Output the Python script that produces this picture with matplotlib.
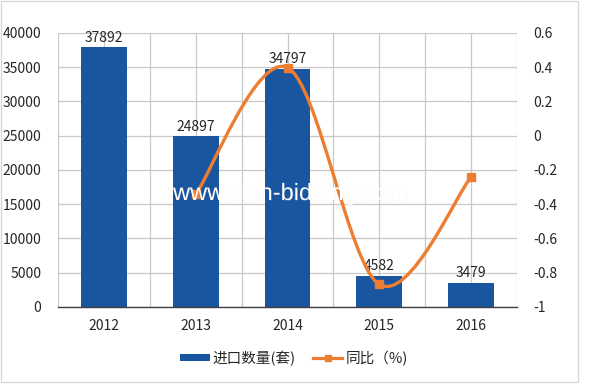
import matplotlib
matplotlib.use("Agg")
import matplotlib.pyplot as plt
import matplotlib.patheffects as pe
from matplotlib.lines import Line2D
from matplotlib.patches import Patch, PathPatch, Rectangle
from matplotlib.path import Path

plt.rcParams["font.family"] = ["Noto Sans CJK SC", "DejaVu Sans"]
plt.rcParams["axes.unicode_minus"] = False

years = ["2012", "2013", "2014", "2015", "2016"]
import_qty = [37892, 24897, 34797, 4582, 3479]
yoy_years = [1, 2, 3, 4]  # index into years, 2012 has no yoy value
yoy = [-0.343, 0.398, -0.868, -0.241]

left_ticks = [0, 5000, 10000, 15000, 20000, 25000, 30000, 35000, 40000]
right_ticks = [-1, -0.8, -0.6, -0.4, -0.2, 0, 0.2, 0.4, 0.6]

BAR_COLOR = "#1A55A0"
LINE_COLOR = "#ED7D31"
GRID_COLOR = "#C8C8C8"
TEXT_COLOR = "#262626"


def smooth_path(xs, ys):
    # excel style smoothed line: catmull-rom segments as cubic beziers
    pts = list(zip(xs, ys))
    verts = [pts[0]]
    codes = [Path.MOVETO]
    for i in range(len(pts) - 1):
        p0 = pts[i - 1] if i > 0 else pts[i]
        p1 = pts[i]
        p2 = pts[i + 1]
        p3 = pts[i + 2] if i + 2 < len(pts) else pts[i + 1]
        c1 = (p1[0] + (p2[0] - p0[0]) / 6, p1[1] + (p2[1] - p0[1]) / 6)
        c2 = (p2[0] - (p3[0] - p1[0]) / 6, p2[1] - (p3[1] - p1[1]) / 6)
        verts += [c1, c2, p2]
        codes += [Path.CURVE4] * 3
    return Path(verts, codes)


fig = plt.figure(figsize=(6, 3.85), dpi=100)
ax = fig.add_axes([0.0967, 0.2026, 0.765, 0.7117])
ax2 = ax.twinx()

x = list(range(len(years)))
ax.bar(x, import_qty, width=0.5, color=BAR_COLOR, zorder=2)
for xi, v in zip(x, import_qty):
    ax.annotate(str(v), (xi, v), xytext=(0, 2), textcoords="offset points",
                ha="center", va="bottom", fontsize=10, color=TEXT_COLOR)

ax.set_xlim(-0.5, len(years) - 0.5)
ax.set_ylim(0, 40000)
ax.set_yticks(left_ticks)
ax.set_yticklabels([str(t) for t in left_ticks])
ax.set_xticks(x)
ax.set_xticklabels(years)
ax.set_xticks([i - 0.5 for i in range(len(years) + 1)], minor=True)
ax.grid(True, which="both", axis="x", color=GRID_COLOR, lw=0.9, zorder=0)
ax.grid(True, which="major", axis="y", color=GRID_COLOR, lw=0.9, zorder=0)
ax.set_axisbelow(True)
ax.tick_params(which="both", length=0, labelsize=10, labelcolor=TEXT_COLOR)
ax.tick_params(axis="x", pad=9)
ax.tick_params(axis="y", pad=12)
for side in ["left", "right", "top"]:
    ax.spines[side].set_visible(False)
ax.spines["bottom"].set_color("#404040")
ax.spines["bottom"].set_linewidth(1.0)

ax2.set_ylim(-1, 0.6)
ax2.set_yticks(right_ticks)
ax2.set_yticklabels([f"{t:g}" for t in right_ticks])
ax2.tick_params(length=0, labelsize=10, labelcolor=TEXT_COLOR, pad=12)
for side in ax2.spines:
    ax2.spines[side].set_visible(False)

ax2.add_patch(PathPatch(smooth_path(yoy_years, yoy), fill=False,
                        edgecolor=LINE_COLOR, lw=2.4, zorder=3))
ax2.plot(yoy_years, yoy, ls="none", marker="s", ms=6, color=LINE_COLOR, zorder=4)

# watermark, white so it only shows over the marks
fig.text(173 / 600, 1 - 200 / 385, "www.chin-bidding.com", color="white",
         fontsize=17, family="Liberation Sans", va="baseline", ha="left", zorder=10,
         path_effects=[pe.withSimplePatchShadow(offset=(0.5, -0.5), shadow_rgbFace="#d8d8d8", alpha=0.12)])

handles = [Patch(facecolor=BAR_COLOR, edgecolor="none"),
           Line2D([], [], color=LINE_COLOR, lw=2.3, marker="s", ms=5)]
fig.legend(handles, ["进口数量(套)", "同比（%)"], loc="center", bbox_to_anchor=(0.49, 0.07),
           ncol=2, frameon=False, fontsize=10.5, handlelength=2.0, handleheight=0.45,
           handletextpad=0.2, columnspacing=1.2, labelcolor=TEXT_COLOR)

fig.patches.append(Rectangle((1 / 600, 1 - 382 / 385), 577 / 600, 381 / 385,
                             transform=fig.transFigure, fill=False, edgecolor="#D9D9D9", lw=1))

fig.savefig("out.png", dpi=100)
